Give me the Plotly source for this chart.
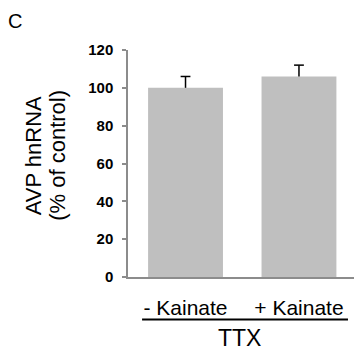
import plotly.graph_objects as go

# Data
conditions = ["- Kainate", "+ Kainate"]
avp_hnrna = [100, 106]          # % of control
sem = [6, 6]                    # upper error
y_ticks = [0, 20, 40, 60, 80, 100, 120]
group_label = "TTX"
panel_label = "C"

FONT = "Liberation Sans, Arial, sans-serif"
x_pos = list(range(len(conditions)))

fig = go.Figure()
fig.add_trace(go.Bar(
    x=x_pos,
    y=avp_hnrna,
    width=0.66,
    marker=dict(color="#bfbfbf", line=dict(width=0)),
    showlegend=False,
))

# Upper-only error bars: stem from bar top plus a cap at the end
stem_x, stem_y = [], []
for xi, v, e in zip(x_pos, avp_hnrna, sem):
    stem_x += [xi, xi, None]
    stem_y += [v, v + e, None]
fig.add_trace(go.Scatter(
    x=stem_x, y=stem_y, mode="lines",
    line=dict(color="black", width=1.5),
    showlegend=False, hoverinfo="skip",
))
fig.add_trace(go.Scatter(
    x=x_pos, y=[v + e for v, e in zip(avp_hnrna, sem)], mode="markers",
    marker=dict(symbol="line-ew", size=7, line=dict(color="black", width=1.5)),
    showlegend=False, hoverinfo="skip",
))

fig.update_layout(
    width=354, height=350,
    margin=dict(l=128, r=0, t=50, b=72.5),
    paper_bgcolor="white", plot_bgcolor="white",
    font=dict(family=FONT, color="black"),
    xaxis=dict(
        range=[-0.507, 1.485],
        tickmode="array", tickvals=x_pos, ticktext=conditions,
        tickfont=dict(size=21, family=FONT, color="black"),
        ticks="", showgrid=False, zeroline=False,
        showline=True, linecolor="#8c8c8c", linewidth=1.5,
        ticklabelstandoff=11,
    ),
    yaxis=dict(
        range=[0, 120],
        tickmode="array", tickvals=y_ticks,
        tickfont=dict(size=15, family=FONT, color="black", weight="bold"),
        ticks="outside", ticklen=4, tickcolor="#8c8c8c", tickwidth=1.5,
        showgrid=False, zeroline=False,
        showline=True, linecolor="#8c8c8c", linewidth=1.5,
        ticklabelstandoff=6,
    ),
)

W_PLOT = 354 - 128
H_PLOT = 350 - 50 - 72.5


def px_to_paper(px, py):
    return (px - 128) / W_PLOT, (350 - 72.5 - py) / H_PLOT


# Y-axis title, two lines
for txt, px in (("AVP hnRNA", 33.5), ("(% of control)", 58)):
    ax, ay = px_to_paper(px, 156)
    fig.add_annotation(text=txt, x=ax, y=ay, xref="paper", yref="paper",
                       xanchor="center", yanchor="middle",
                       showarrow=False, textangle=-90,
                       font=dict(size=22, family=FONT))

# Group bracket line and label
fig.add_shape(type="line", xref="x", yref="paper",
              x0=-0.383, x1=1.432, y0=-0.187, y1=-0.187,
              line=dict(color="black", width=2))
fig.add_annotation(text=group_label, xref="x", yref="paper",
                   x=0.48, y=-0.27, showarrow=False,
                   xanchor="center", yanchor="middle",
                   font=dict(size=23, family=FONT))

# Panel letter
cx, cy = px_to_paper(15, 21)
fig.add_annotation(text=panel_label, xref="paper", yref="paper",
                   x=cx, y=cy, showarrow=False,
                   xanchor="center", yanchor="middle",
                   font=dict(size=20, family=FONT))

fig.write_html("out.html")
